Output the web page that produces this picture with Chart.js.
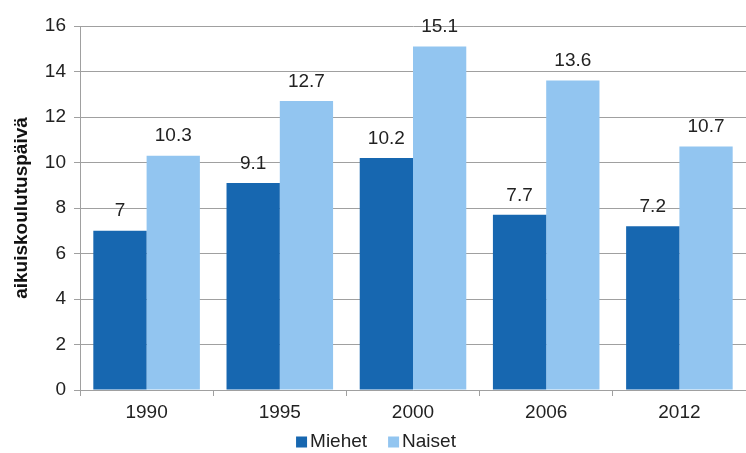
<!DOCTYPE html>
<html>
<head>
<meta charset="utf-8">
<script src="https://cdn.jsdelivr.net/npm/chart.js@4"></script>
<style>
  html, body { margin: 0; padding: 0; background: #fff; }
  #wrap { width: 746px; height: 453px; }
</style>
</head>
<body>
<div id="wrap"><canvas id="chart"></canvas></div>
<script>
const years = ["1990", "1995", "2000", "2006", "2012"];
const miehet = [7, 9.1, 10.2, 7.7, 7.2];
const naiset = [10.3, 12.7, 15.1, 13.6, 10.7];
const yTicks = [0, 2, 4, 6, 8, 10, 12, 14, 16];

const FONT = "'Liberation Sans', Arial, sans-serif";

// writes the value above each bar
const valueLabels = {
  id: "valueLabels",
  afterDatasetsDraw(chart) {
    const ctx = chart.ctx;
    ctx.save();
    ctx.font = "19px " + FONT;
    ctx.fillStyle = "#222";
    ctx.textAlign = "center";
    ctx.textBaseline = "bottom";
    chart.data.datasets.forEach((ds, i) => {
      chart.getDatasetMeta(i).data.forEach((bar, j) => {
        ctx.fillText(String(ds.data[j]), bar.x, bar.y - 10);
      });
    });
    ctx.restore();
  }
};

// small legend under the x axis, squares + names close together
const bottomLegend = {
  id: "bottomLegend",
  afterDraw(chart) {
    const ctx = chart.ctx;
    const box = 11, gap = 3, spacing = 21;
    ctx.save();
    ctx.font = "19px " + FONT;
    ctx.textBaseline = "middle";
    const items = chart.data.datasets.map(ds => ({
      text: ds.label,
      color: ds.backgroundColor,
      w: ctx.measureText(ds.label).width
    }));
    const total = items.reduce((s, it) => s + box + gap + it.w, 0) + spacing * (items.length - 1);
    let x = chart.width / 2 + 3 - total / 2;
    const y = chart.chartArea.bottom + 52;
    items.forEach(it => {
      ctx.fillStyle = it.color;
      ctx.fillRect(x, y - box / 2, box, box);
      ctx.fillStyle = "#222";
      ctx.fillText(it.text, x + box + gap, y);
      x += box + gap + it.w + spacing;
    });
    ctx.restore();
  }
};

new Chart(document.getElementById("chart"), {
  type: "bar",
  data: {
    labels: years,
    datasets: [
      { label: "Miehet", data: miehet, backgroundColor: "#1767B0" },
      { label: "Naiset", data: naiset, backgroundColor: "#92C5F0" }
    ]
  },
  options: {
    responsive: true,
    maintainAspectRatio: false,
    animation: false,
    devicePixelRatio: 1,
    layout: { padding: { top: 26, right: 0, left: 0, bottom: 0 } },
    datasets: { bar: { categoryPercentage: 0.8, barPercentage: 1.0 } },
    plugins: {
      tooltip: { enabled: false },
      legend: { display: false }
    },
    scales: {
      x: {
        afterFit(scale) { scale.height = 63; },
        grid: {
          offset: true,
          drawOnChartArea: false,
          color: "#A0A0A0",
          tickLength: 6
        },
        border: { color: "#A0A0A0" },
        ticks: { font: { family: FONT, size: 19 }, color: "#222", padding: 5 }
      },
      y: {
        min: 0,
        max: 16,
        afterBuildTicks(scale) { scale.ticks = yTicks.map(v => ({ value: v })); },
        afterFit(scale) { scale.width = 80; },
        grid: { color: "#A0A0A0", tickLength: 6 },
        border: { color: "#A0A0A0" },
        ticks: { font: { family: FONT, size: 19 }, color: "#222", padding: 8 },
        title: {
          display: true,
          text: "aikuiskoulutuspäivä",
          font: { family: FONT, size: 19, weight: "bold" },
          color: "#111",
          padding: { top: 10, bottom: 0 }
        }
      }
    }
  },
  plugins: [valueLabels, bottomLegend]
});
</script>
</body>
</html>
